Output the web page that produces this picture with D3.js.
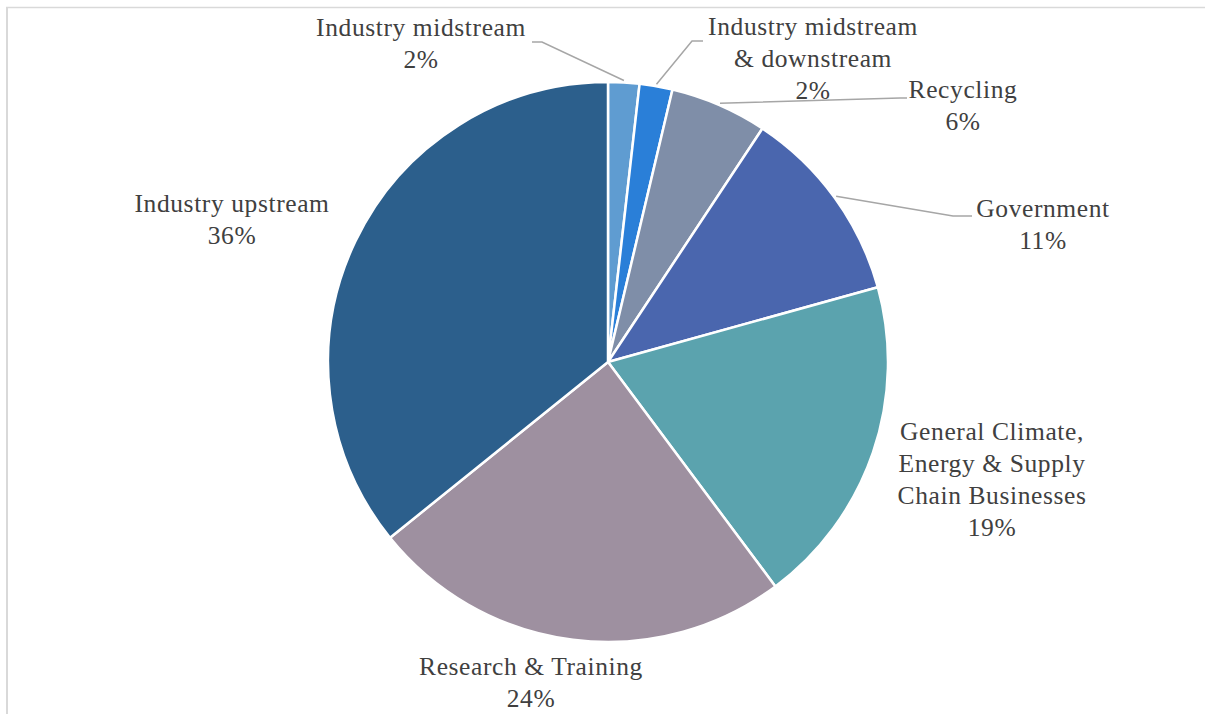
<!DOCTYPE html>
<html>
<head>
<meta charset="utf-8">
<script src="https://cdn.jsdelivr.net/npm/d3@7"></script>
<style>
  html, body { margin: 0; padding: 0; background: #fff; }
  svg { display: block; }
</style>
</head>
<body>
<div id="chart"></div>
<script>
// Slices, clockwise from 12 o'clock
const categories = [
  ["Industry midstream"],
  ["Industry midstream", "& downstream"],
  ["Recycling"],
  ["Government"],
  ["General Climate,", "Energy & Supply", "Chain Businesses"],
  ["Research & Training"],
  ["Industry upstream"],
];
const shares = [1.8, 1.9, 5.6, 11.4, 19.1, 24.4, 35.8];
const colors = ["#5f9cd1", "#2a7fd8", "#7f8ea8", "#4a66ae", "#5ba3ae", "#9e90a0", "#2c5f8c"];

// Label placement (Excel-style manual layout): text centre x, first baseline y,
// optional leader start point and elbow x
const labelLayout = [
  {x: 421, y: 36, leader: [532, 42], elbow: 542},
  {x: 813, y: 35, leader: [703, 41], elbow: 692},
  {x: 963, y: 98, leader: [907, 98], elbow: 900},
  {x: 1043, y: 217, leader: [972, 216], elbow: 953},
  {x: 992, y: 440},
  {x: 531, y: 675},
  {x: 232, y: 212},
];

const width = 1205;
const height = 714;
const cx = 608;
const cy = 362;
const radius = 280;
const lineHeight = 32;

const svg = d3.select("#chart").append("svg").attr("width", width).attr("height", height);

// Chart area frame (only top and left edges are visible)
svg.append("line").attr("x1", 6).attr("x2", width).attr("y1", 7.5).attr("y2", 7.5)
  .attr("stroke", "#d9d9d9").attr("stroke-width", 1.5);
svg.append("line").attr("x1", 7).attr("x2", 7).attr("y1", 7).attr("y2", height)
  .attr("stroke", "#d9d9d9").attr("stroke-width", 2);

const data = categories.map((lines, i) => ({lines, value: shares[i], color: colors[i], layout: labelLayout[i]}));

const pie = d3.pie().value((d) => d.value).sort(null);
const arcs = pie(data);
const arc = d3.arc().innerRadius(0).outerRadius(radius);
const total = d3.sum(shares);

const g = svg.append("g").attr("transform", `translate(${cx},${cy})`);

g.selectAll("path")
  .data(arcs)
  .join("path")
  .attr("d", arc)
  .attr("fill", (d) => d.data.color)
  .attr("stroke", "#fff")
  .attr("stroke-width", 2.5)
  .attr("stroke-linejoin", "round");

// Leader lines: from the label to the middle of the slice's outer edge
const leaderArc = d3.arc().innerRadius(radius + 2).outerRadius(radius + 2);
const leaders = svg.append("g");
arcs.filter((d) => d.data.layout.leader).forEach((d) => {
  const mid = (d.startAngle + d.endAngle) / 2;
  const px = cx + (radius + 2) * Math.sin(mid);
  const py = cy - (radius + 2) * Math.cos(mid);
  const [lx, ly] = d.data.layout.leader;
  leaders.append("polyline")
    .attr("points", [[lx, ly], [d.data.layout.elbow, ly], [px, py]].map((p) => p.join(",")).join(" "))
    .attr("fill", "none")
    .attr("stroke", "#a6a6a6")
    .attr("stroke-width", 1.5);
});

// Labels
const labels = svg.append("g")
  .attr("font-family", "'Liberation Serif', 'Times New Roman', serif")
  .attr("font-size", 25.5)
  .attr("letter-spacing", 0.6)
  .attr("fill", "#404040")
  .attr("text-anchor", "middle");

arcs.forEach((d) => {
  const pct = d3.format(".0f")((d.data.value / total) * 100) + "%";
  const lines = [...d.data.lines, pct];
  const t = labels.append("text").attr("x", d.data.layout.x).attr("y", d.data.layout.y);
  lines.forEach((line, i) => {
    t.append("tspan").attr("x", d.data.layout.x).attr("dy", i === 0 ? 0 : lineHeight).text(line);
  });
});
</script>
</body>
</html>
